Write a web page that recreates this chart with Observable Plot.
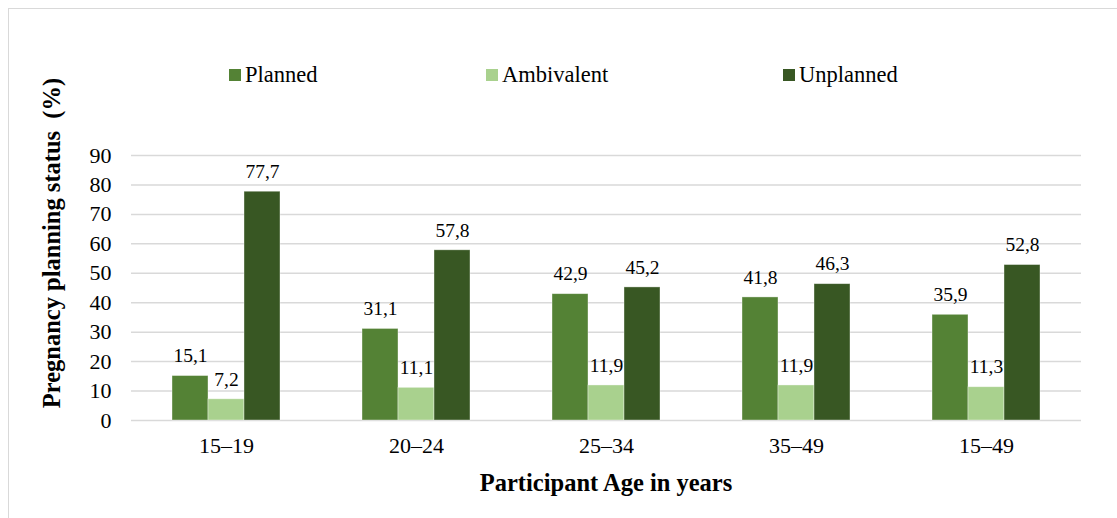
<!DOCTYPE html>
<html>
<head>
<meta charset="utf-8">
<script src="https://cdn.jsdelivr.net/npm/d3@7"></script>
<script src="https://cdn.jsdelivr.net/npm/@observablehq/plot@0.6"></script>
<style>
  html, body { margin: 0; padding: 0; background: #fff; }
  #wrap { position: relative; width: 1117px; height: 518px; overflow: hidden; background: #fff; font-family: "Liberation Serif", "Times New Roman", serif; color: #000; }
  #frame { position: absolute; left: 8px; top: 8px; width: 1200px; height: 600px; border: 1.5px solid #d9d9d9; pointer-events: none; }
  #chart { position: absolute; left: 0; top: 0; }
  .leg { position: absolute; top: 63px; display: flex; align-items: center; font-size: 22.5px; line-height: 24px; white-space: nowrap; }
  .sw { width: 12px; height: 12px; margin-right: 4px; display: inline-block; }
  #ytitle { position: absolute; left: 52px; top: 243px; transform: translate(-50%, -50%) rotate(-90deg); font-weight: bold; font-size: 24.5px; white-space: pre; }
  #xtitle { position: absolute; left: 606px; top: 483px; transform: translate(-50%, -50%); font-weight: bold; font-size: 24.5px; white-space: pre; }
</style>
</head>
<body>
<div id="wrap">
  <div id="chart"></div>
  <div id="frame"></div>
  <div id="legend"></div>
  <div id="ytitle"></div>
  <div id="xtitle"></div>
</div>
<script>
// ---- data ----
const ages = ["15–19", "20–24", "25–34", "35–49", "15–49"];
const statuses = ["Planned", "Ambivalent", "Unplanned"];
const planned = [15.1, 31.1, 42.9, 41.8, 35.9];
const ambivalent = [7.2, 11.1, 11.9, 11.9, 11.3];
const unplanned = [77.7, 57.8, 45.2, 46.3, 52.8];
const yTicks = [0, 10, 20, 30, 40, 50, 60, 70, 80, 90];
const yTitle = "Pregnancy planning status  (%)";
const xTitle = "Participant Age in years";

const colors = ["#548235", "#a9d18e", "#385723"];
const legendLeft = [229, 486, 783];

const series = [planned, ambivalent, unplanned];
const data = ages.flatMap((age, i) => statuses.map((s, j) => ({age, status: s, value: series[j][i]})));
const fmt = d3.formatLocale({decimal: ",", thousands: " ", grouping: [3], currency: ["", ""]}).format(".1f");

const chart = Plot.plot({
  width: 1117,
  height: 518,
  marginTop: 155,
  marginBottom: 98,
  marginLeft: 129,
  marginRight: 35,
  style: {fontFamily: "'Liberation Serif', 'Times New Roman', serif", fontSize: "22px", color: "#000", background: "transparent", overflow: "visible"},
  fx: {domain: ages, padding: 0, label: null},
  x: {domain: statuses, paddingInner: 0, paddingOuter: 1.076, axis: null},
  y: {domain: [0, 90], label: null},
  color: {domain: statuses, range: colors},
  marks: [
    Plot.gridY(yTicks, {stroke: "#d9d9d9", strokeOpacity: 1, strokeWidth: 1.5}),
    Plot.axisY(yTicks, {tickSize: 0, tickPadding: 20, label: null, fontSize: 22}),
    Plot.axisFx({anchor: "bottom", tickSize: 0, tickPadding: 17, label: null, fontSize: 22}),
    Plot.barY(data, {fx: "age", x: "status", y: "value", fill: "status", stroke: "#ffffff", strokeWidth: 0.75, strokeOpacity: 0.5}),
    Plot.text(data, {fx: "age", x: "status", y: "value", text: d => fmt(d.value), dy: -20, fontSize: 19.5, fill: "#000"})
  ]
});
document.getElementById("chart").appendChild(chart);

const legend = document.getElementById("legend");
statuses.forEach((s, i) => {
  const item = document.createElement("div");
  item.className = "leg";
  item.style.left = legendLeft[i] + "px";
  const sw = document.createElement("span");
  sw.className = "sw";
  sw.style.background = colors[i];
  item.appendChild(sw);
  item.appendChild(document.createTextNode(s));
  legend.appendChild(item);
});
document.getElementById("ytitle").textContent = yTitle;
document.getElementById("xtitle").textContent = xTitle;
</script>
</body>
</html>
